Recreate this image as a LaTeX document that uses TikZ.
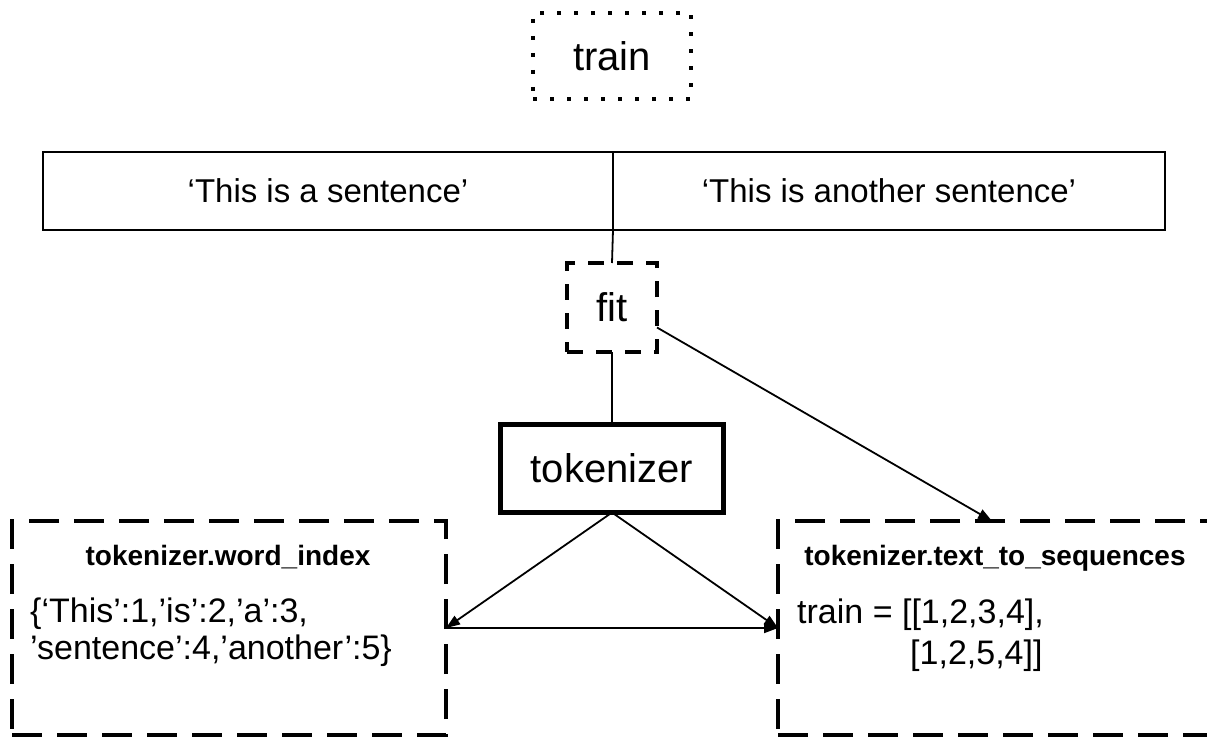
\documentclass[tikz,border=0pt]{standalone}
\usepackage{fontspec}
\setmainfont{Liberation Sans}
\usetikzlibrary{arrows.meta,calc}
\begin{document}
\begin{tikzpicture}[x=1pt,y=-1pt,
  box/.style={draw,rectangle,inner sep=0pt,outer sep=0pt},
  conn/.style={line width=1.8pt},
  arr/.style={conn,-{Triangle[length=14pt,width=10pt]}},
  dotbox/.style={box,line width=4pt,dash pattern=on 4pt off 13pt},
  smalldash/.style={box,line width=4pt,dash pattern=on 16pt off 13pt},
  bigdash/.style={box,line width=4pt,dash pattern=on 30pt off 15pt},
  cell/.style={box,line width=1.5pt,font=\fontsize{33}{40}\selectfont},
  big/.style={font=\fontsize{40}{48}\selectfont},
  body/.style={inner sep=0pt,anchor=base west,font=\fontsize{34}{40}\selectfont},
  head/.style={inner sep=0pt,anchor=base,font=\fontsize{28}{34}\selectfont\bfseries}]
\clip (0,0) rectangle (1207,738);
% train
\node[dotbox,big,minimum width=158pt,minimum height=86pt] (train) at (612,56) {train};
% sentences
\node[cell,minimum width=570pt,minimum height=78pt] (s1) at (328,191) {‘This is a sentence’};
\node[cell,minimum width=552pt,minimum height=78pt] (s2) at (889,191) {‘This is another sentence’};
% fit
\node[smalldash,big,minimum width=90pt,minimum height=89pt] (fit) at (612,307.5) {fit};
% tokenizer
\node[box,big,line width=5pt,minimum width=223pt,minimum height=88pt] (tok) at (612,468.5) {tokenizer};
% lower boxes
\node[bigdash,minimum width=434pt,minimum height=214pt] (lb) at (229,628) {};
\node[bigdash,minimum width=434pt,minimum height=214pt] (rb) at (995,628) {};
\node[head] (lbh) at (228,565) {tokenizer.word\_index};
\node[body] (lb1) at (30,622) {\{‘This’:1,’is’:2,’a’:3,};
\node[body] (lb2) at (30,659) {’sentence’:4,’another’:5\}};
\node[head] (rbh) at (995,565) {tokenizer.text\_to\_sequences};
\node[body] (rb1) at (797,623) {train = [[1,2,3,4],};
\node[body] (rb2) at (910,664) {[1,2,5,4]]};
% connectors
\draw[conn] (s1.south east) -- (fit.north);
\draw[conn] (fit.south) -- (tok.north);
\draw[arr] ($(fit.east)+(0,20)$) -- ($(rb.north)+(-3,0)$);
\draw[arr] (tok.south) -- (lb.east);
\draw[arr] (tok.south) -- (rb.west);
\draw[arr] (lb.east) -- (rb.west);
\end{tikzpicture}
\end{document}
